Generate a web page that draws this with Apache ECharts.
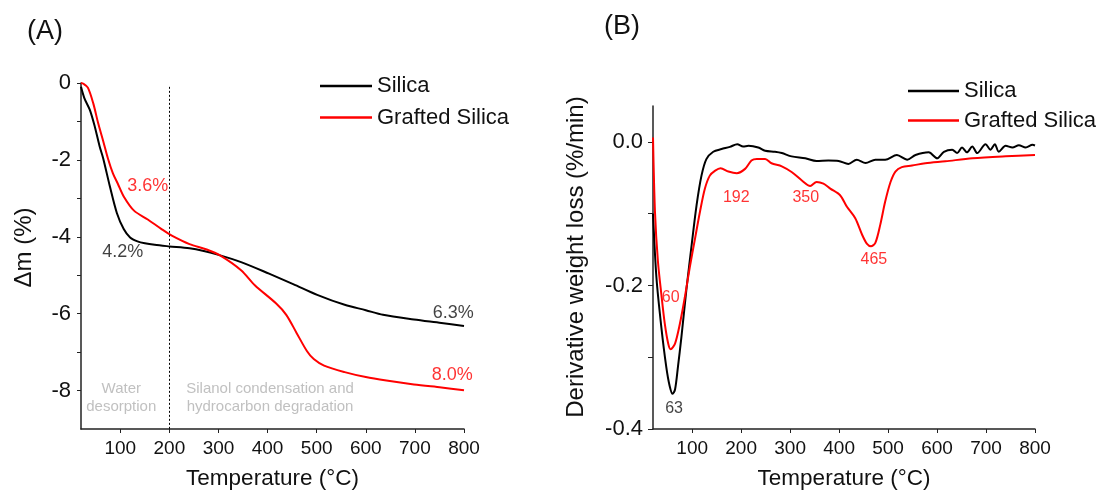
<!DOCTYPE html>
<html>
<head>
<meta charset="utf-8">
<script src="https://cdn.jsdelivr.net/npm/echarts@6/dist/echarts.min.js"></script>
<style>
html,body{margin:0;padding:0;background:#fff;}
#chart{width:1097px;height:495px;}
</style>
</head>
<body>
<div id="chart"></div>
<script>
// ---------- Panel A: TGA (mass loss) ----------
var silicaA_T = [20, 27, 38, 48, 58, 65, 79, 93, 107, 120, 135, 150, 170, 200, 241, 270, 300, 346, 403, 452, 501, 557, 600, 635, 698, 754, 800];
var silicaA_M = [-0.1, -0.4, -0.7, -1.13, -1.65, -1.95, -2.7, -3.38, -3.8, -4.02, -4.12, -4.17, -4.21, -4.25, -4.3, -4.37, -4.47, -4.66, -4.96, -5.23, -5.51, -5.77, -5.91, -6.03, -6.15, -6.24, -6.32];
var graftA_T = [20, 25, 34, 45, 55, 65, 75, 85, 95, 107, 128, 156, 184, 205, 241, 276, 304, 346, 374, 417, 438, 459, 480, 494, 515, 557, 600, 642, 698, 754, 800];
var graftA_M = [0, -0.02, -0.12, -0.53, -1.05, -1.5, -1.97, -2.35, -2.62, -2.95, -3.32, -3.55, -3.8, -3.97, -4.19, -4.33, -4.49, -4.87, -5.26, -5.73, -6.03, -6.5, -6.97, -7.18, -7.35, -7.52, -7.65, -7.74, -7.84, -7.92, -7.99];

// ---------- Panel B: DTG ----------
var silicaB_T = [20, 27, 37, 47, 54, 60, 65, 71, 78, 88, 99, 109, 119, 129, 143, 160, 177, 192, 204, 215, 235, 249, 269, 283, 303, 331, 354, 378, 399, 419, 436, 454, 474, 494, 518, 539, 556, 583, 600, 614, 631, 641, 651, 661, 672, 682, 699, 709, 718, 726, 740, 754, 767, 781, 795, 800];
var silicaB_D = [-0.1, -0.189, -0.258, -0.313, -0.34, -0.351, -0.345, -0.313, -0.272, -0.207, -0.143, -0.088, -0.047, -0.024, -0.0137, -0.01, -0.0069, -0.0032, -0.0064, -0.0055, -0.0078, -0.0124, -0.0138, -0.0156, -0.0202, -0.0229, -0.0266, -0.026, -0.0266, -0.0307, -0.0248, -0.0293, -0.0248, -0.0248, -0.0183, -0.0248, -0.0183, -0.0146, -0.0229, -0.0138, -0.011, -0.0156, -0.0078, -0.0146, -0.0064, -0.0156, -0.0032, -0.011, -0.0032, -0.0137, -0.0055, -0.0078, -0.0046, -0.0078, -0.0041, -0.005];
var graftB_T = [20, 24, 30, 37, 44, 51, 56, 65, 75, 85, 95, 106, 116, 126, 136, 147, 158, 174, 191, 208, 221, 232, 249, 262, 283, 303, 324, 341, 354, 368, 382, 402, 416, 433, 447, 457, 465, 474, 484, 494, 505, 515, 528, 549, 576, 617, 672, 740, 800];
var graftB_D = [0.006, -0.097, -0.166, -0.212, -0.253, -0.281, -0.289, -0.281, -0.253, -0.2165, -0.175, -0.134, -0.097, -0.065, -0.047, -0.04, -0.0367, -0.0413, -0.0436, -0.0376, -0.026, -0.0238, -0.0238, -0.0298, -0.034, -0.042, -0.0537, -0.0614, -0.0559, -0.0582, -0.0651, -0.0743, -0.0904, -0.1064, -0.1294, -0.1422, -0.1454, -0.1408, -0.1156, -0.0834, -0.0559, -0.0413, -0.0352, -0.033, -0.0297, -0.027, -0.0229, -0.0201, -0.0183];

// ---------- Ticks & labels ----------
var xTicks = [100, 200, 300, 400, 500, 600, 700, 800];
var yTicksA = [-8, -7, -6, -5, -4, -3, -2, -1, 0];
var yLabelsA = [-8, -6, -4, -2, 0];
var yTicksB = [-0.4, -0.3, -0.2, -0.1, 0];
var yLabelsB = [-0.4, -0.2, 0];

// annotations: [x, y, text]
var annotA_black = [[105, -4.39, '4.2%'], [778, -5.99, '6.3%']];
var annotA_red = [[156, -2.68, '3.6%'], [776, -7.6, '8.0%']];
var annotA_gray = [[102, -8.18, 'Water\ndesorption'], [405, -8.18, 'Silanol condensation and\nhydrocarbon degradation']];
var annotB_black = [[63, -0.372, '63']];
var annotB_red = [[56, -0.2165, '60'], [190, -0.0775, '192'], [332, -0.0775, '350'], [471, -0.1646, '465']];

function pairs(xs, ys) { return xs.map(function (x, i) { return [x, ys[i]]; }); }
function annData(a) { return a.map(function (d) { return { value: [d[0], d[1]], name: d[2] }; }); }

var FONT = 'Liberation Sans, Arial, sans-serif';
var AX = '#222';

function xAxis(gi) {
  return {
    type: 'value', gridIndex: gi, min: 20, max: 800,
    name: 'Temperature (°C)', nameLocation: 'middle', nameGap: 38,
    nameTextStyle: { fontSize: 22.5, color: '#111', fontFamily: FONT },
    axisLine: { show: true, onZero: false, lineStyle: { color: AX, width: 1.5 } },
    axisTick: { show: true, inside: false, length: 4, customValues: xTicks, lineStyle: { color: AX } },
    axisLabel: { customValues: xTicks, fontSize: 19, color: '#111', fontFamily: FONT, margin: 10 },
    splitLine: { show: false }
  };
}

function annSeries(gx, data, color, size, lh) {
  return {
    type: 'scatter', xAxisIndex: gx, yAxisIndex: gx, symbolSize: 0, silent: true,
    data: annData(data), z: 5,
    label: { show: true, position: 'inside', formatter: '{b}', color: color, fontSize: size, fontFamily: FONT, lineHeight: lh || size }
  };
}

var option = {
  animation: false,
  backgroundColor: '#ffffff',
  textStyle: { fontFamily: FONT },
  grid: [
    { left: 81, width: 383, top: 83, height: 349, containLabel: false },
    { left: 653, width: 382, top: 106, height: 327, containLabel: false }
  ],
  legend: [
    {
      left: 315, top: 70, orient: 'vertical', icon: 'rect', itemWidth: 52, itemHeight: 2.5, itemGap: 9.5,
      textStyle: { fontSize: 22, color: '#111', fontFamily: FONT, lineHeight: 22 },
      data: ['Silica', 'Grafted Silica']
    },
    {
      left: 903, top: 75, orient: 'vertical', icon: 'rect', itemWidth: 51, itemHeight: 2.5, itemGap: 7.5,
      textStyle: { fontSize: 22, color: '#111', fontFamily: FONT, lineHeight: 22 },
      data: ['Silica', 'Grafted Silica']
    }
  ],
  xAxis: [xAxis(0), xAxis(1)],
  yAxis: [
    {
      type: 'value', gridIndex: 0, min: -9, max: 0,
      name: 'Δm (%)', nameLocation: 'middle', nameGap: 45,
      nameTextStyle: { fontSize: 24, color: '#111', fontFamily: FONT, padding: [0, 0, 0, 17] },
      axisLine: { show: true, onZero: false, lineStyle: { color: AX, width: 1.5 } },
      axisTick: { show: true, length: 4, customValues: yTicksA, lineStyle: { color: AX } },
      axisLabel: { customValues: yLabelsA, fontSize: 22, color: '#111', fontFamily: FONT, margin: 10 },
      splitLine: { show: false }
    },
    {
      type: 'value', gridIndex: 1, min: -0.4, max: 0.05,
      name: 'Derivative weight loss (%/min)', nameLocation: 'middle', nameGap: 65,
      nameTextStyle: { fontSize: 24, color: '#111', fontFamily: FONT, padding: [0, 0, 0, 21] },
      axisLine: { show: true, onZero: false, lineStyle: { color: AX, width: 1.5 } },
      axisTick: { show: true, length: 5, customValues: yTicksB, lineStyle: { color: AX } },
      axisLabel: { customValues: yLabelsB, fontSize: 22, color: '#111', fontFamily: FONT, margin: 10,
        formatter: function (v) { return v.toFixed(1); } },
      splitLine: { show: false }
    }
  ],
  graphic: [
    { type: 'text', left: 27, top: 18, style: { text: '(A)', fontSize: 27, fill: '#111', fontFamily: FONT } },
    { type: 'text', left: 604, top: 13, style: { text: '(B)', fontSize: 27, fill: '#111', fontFamily: FONT } }
  ],
  series: [
    {
      name: 'Silica', type: 'line', xAxisIndex: 0, yAxisIndex: 0, data: pairs(silicaA_T, silicaA_M),
      showSymbol: false, smooth: 0.3, lineStyle: { color: '#000', width: 2 }, itemStyle: { color: '#000' },
      markLine: {
        silent: true, symbol: 'none', label: { show: false },
        lineStyle: { color: '#000', type: [2, 2], width: 1 },
        data: [[{ coord: [200, -0.1] }, { coord: [200, -9] }]]
      }
    },
    {
      name: 'Grafted Silica', type: 'line', xAxisIndex: 0, yAxisIndex: 0, data: pairs(graftA_T, graftA_M),
      showSymbol: false, smooth: 0.3, lineStyle: { color: '#ff0000', width: 2 }, itemStyle: { color: '#ff0000' }
    },
    {
      name: 'Silica', type: 'line', xAxisIndex: 1, yAxisIndex: 1, data: pairs(silicaB_T, silicaB_D),
      showSymbol: false, smooth: 0.3, lineStyle: { color: '#000', width: 2 }, itemStyle: { color: '#000' }
    },
    {
      name: 'Grafted Silica', type: 'line', xAxisIndex: 1, yAxisIndex: 1, data: pairs(graftB_T, graftB_D),
      showSymbol: false, smooth: 0.3, lineStyle: { color: '#ff0000', width: 2 }, itemStyle: { color: '#ff0000' }
    },
    annSeries(0, annotA_black, '#111', 18),
    annSeries(0, annotA_red, '#ff0000', 18),
    annSeries(0, annotA_gray, '#b0b0b0', 15, 18),
    annSeries(1, annotB_black, '#111', 16),
    annSeries(1, annotB_red, '#ff0000', 16)
  ]
};

var chart = echarts.init(document.getElementById('chart'), null, { renderer: 'canvas' });
chart.setOption(option);
</script>
</body>
</html>
